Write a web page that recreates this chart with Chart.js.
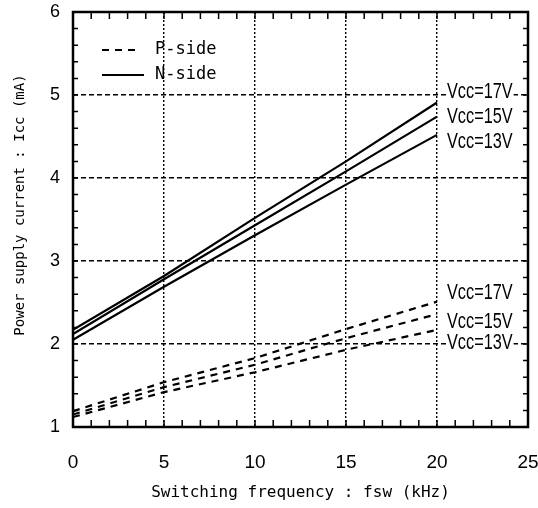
<!DOCTYPE html>
<html>
<head>
<meta charset="utf-8">
<script src="https://cdn.jsdelivr.net/npm/chart.js@4"></script>
<style>
  html,body{margin:0;padding:0;background:#fff;overflow:hidden;}
  #wrap{width:538px;height:508px;position:relative;}
</style>
</head>
<body>
<div id="wrap"><canvas id="c"></canvas></div>
<script>
// frequency points (kHz)
const fsw = [0, 5, 10, 15, 20];

// N-side supply current (mA)
const n17 = [2.17, 2.82, 3.52, 4.20, 4.91];
const n15 = [2.12, 2.78, 3.43, 4.08, 4.74];
const n13 = [2.05, 2.69, 3.31, 3.92, 4.52];

// P-side supply current (mA)
const p17 = [1.19, 1.54, 1.83, 2.18, 2.51];
const p15 = [1.15, 1.48, 1.75, 2.07, 2.36];
const p13 = [1.12, 1.42, 1.66, 1.93, 2.17];

const vccLabels = ['Vcc=17V', 'Vcc=15V', 'Vcc=13V'];
const nLabelY = [5.04, 4.73, 4.43];
const pLabelY = [2.61, 2.27, 2.01];
const labelX = 20.55;

const xTicks = [0, 5, 10, 15, 20, 25];
const yTicks = [1, 2, 3, 4, 5, 6];

const SANS = "'Liberation Sans',Arial,sans-serif";
const MONO = "'DejaVu Sans Mono','Liberation Mono',monospace";

function pts(ys){ return fsw.map((x,i)=>({x, y: ys[i]})); }

function series(label, ys, dashed){
  return {
    label, data: pts(ys),
    borderColor:'#000', borderWidth:2.2,
    borderDash: dashed ? [7,6] : [],
    pointRadius:0, tension:0, fill:false
  };
}

// narrow text by squeezing horizontally
function narrowText(ctx, txt, x, y, sx){
  ctx.save();
  ctx.translate(x, y);
  ctx.scale(sx, 1);
  ctx.fillText(txt, 0, 0);
  ctx.restore();
}

const framePlugin = {
  id:'frame',
  afterDraw(chart){
    const {ctx, chartArea:a, scales:{x, y}} = chart;
    ctx.save();
    // minor ticks, all four sides
    ctx.strokeStyle = '#000';
    ctx.lineWidth = 1.5;
    ctx.beginPath();
    for(let v=1; v<25; v++){
      const px = x.getPixelForValue(v);
      ctx.moveTo(px, a.bottom); ctx.lineTo(px, a.bottom-7);
      ctx.moveTo(px, a.top); ctx.lineTo(px, a.top+7);
    }
    for(let k=1; k<25; k++){
      const py = y.getPixelForValue(1 + k*0.2);
      ctx.moveTo(a.left, py); ctx.lineTo(a.left+5, py);
      ctx.moveTo(a.right, py); ctx.lineTo(a.right-5, py);
    }
    ctx.stroke();
    // frame
    ctx.lineWidth = 2.5;
    ctx.strokeRect(a.left, a.top, a.right-a.left, a.bottom-a.top);

    // Vcc labels
    ctx.font = '22px ' + SANS;
    ctx.textBaseline = 'middle';
    ctx.textAlign = 'left';
    const sx = 0.74;
    const lx = x.getPixelForValue(labelX);
    [nLabelY, pLabelY].forEach(arr => {
      arr.forEach((v,i) => {
        const py = y.getPixelForValue(v);
        const w = ctx.measureText(vccLabels[i]).width * sx;
        ctx.fillStyle = '#fff';
        ctx.fillRect(lx-1, py-10, w+2, 20);
        ctx.fillStyle = '#000';
        narrowText(ctx, vccLabels[i], lx, py, sx);
      });
    });

    // legend
    ctx.font = '17px ' + MONO;
    ctx.lineWidth = 2;
    const ly1 = 50, ly2 = 75;
    ctx.setLineDash([7,6]);
    ctx.beginPath(); ctx.moveTo(102, ly1); ctx.lineTo(140, ly1); ctx.stroke();
    ctx.setLineDash([]);
    ctx.beginPath(); ctx.moveTo(102, ly2); ctx.lineTo(144, ly2); ctx.stroke();
    ctx.fillText('P-side', 155, ly1);
    ctx.fillText('N-side', 155, ly2);

    // y axis title (sits a little above the plot centre in the original)
    ctx.font = '14px ' + MONO;
    ctx.textAlign = 'center';
    ctx.translate(20, 205);
    ctx.rotate(-Math.PI/2);
    ctx.fillText('Power supply current : Icc (mA)', 0, 0);
    ctx.restore();
  }
};

new Chart(document.getElementById('c'), {
  type:'line',
  data:{
    datasets:[
      series('P 17V', p17, true),
      series('P 15V', p15, true),
      series('P 13V', p13, true),
      series('N 17V', n17, false),
      series('N 15V', n15, false),
      series('N 13V', n13, false),
    ]
  },
  plugins:[framePlugin],
  options:{
    responsive:true, maintainAspectRatio:false, animation:false,
    layout:{padding:{top:12, right:10, left:0, bottom:0}},
    plugins:{legend:{display:false}, tooltip:{enabled:false}},
    scales:{
      x:{
        type:'linear', min:0, max:25,
        afterFit: s => { s.height = 81; s.paddingRight = 0; s.paddingLeft = 0; },
        afterBuildTicks: s => { s.ticks = xTicks.map(v=>({value:v})); },
        grid:{color:'#000', lineWidth:1.4, drawTicks:false},
        border:{display:false, dash:[2,2]},
        ticks:{color:'#000', padding:24, maxRotation:0, font:{family:SANS, size:19}},
        title:{display:true, text:'Switching frequency : fsw (kHz)', color:'#000',
               font:{family:MONO, size:16}, padding:{top:0, bottom:6}}
      },
      y:{
        type:'linear', min:1, max:6,
        afterFit: s => { s.width = 73; s.paddingTop = 0; s.paddingBottom = 0; },
        afterBuildTicks: s => { s.ticks = yTicks.map(v=>({value:v})); },
        grid:{color:'#000', lineWidth:1.4, drawTicks:false},
        border:{display:false, dash:[5,3]},
        ticks:{color:'#000', padding:13, font:{family:SANS, size:18}},
        title:{display:false}
      }
    }
  }
});
</script>
</body>
</html>
